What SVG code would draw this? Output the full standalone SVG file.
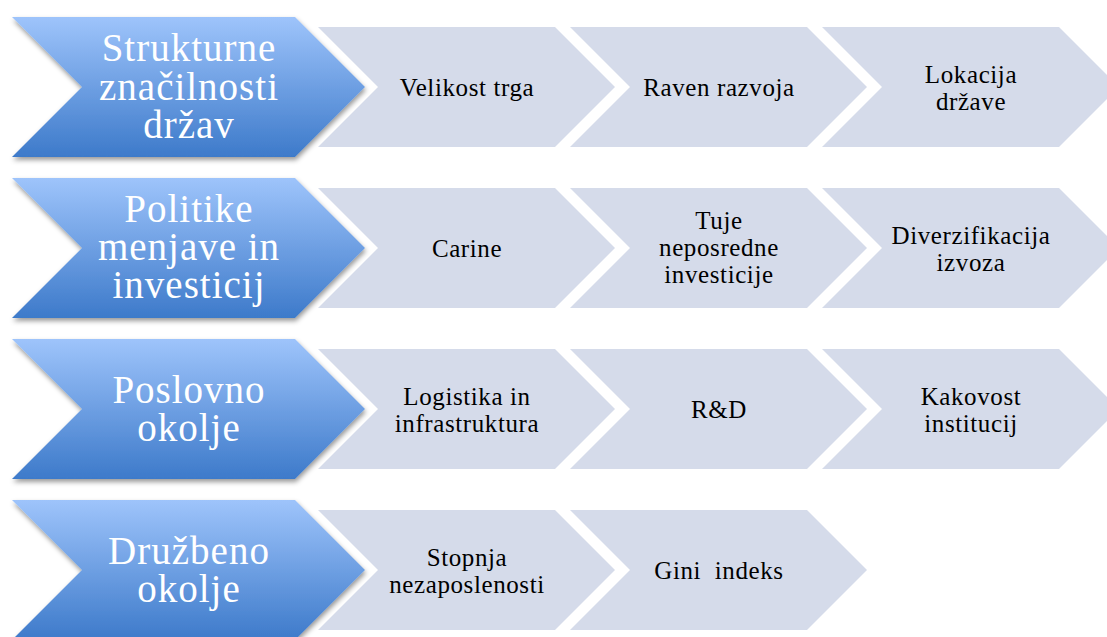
<svg xmlns="http://www.w3.org/2000/svg" width="1107" height="637" viewBox="0 0 1107 637">
<defs>
<linearGradient id="blueGrad" x1="0" y1="0" x2="0" y2="1">
<stop offset="0" stop-color="#9EC4FB"/>
<stop offset="1" stop-color="#3D7ACA"/>
</linearGradient>
<filter id="shadow" x="-10%" y="-10%" width="125%" height="130%">
<feDropShadow dx="1" dy="3" stdDeviation="2.5" flood-color="#000" flood-opacity="0.4"/>
</filter>
</defs>
<style>
.big{fill:url(#blueGrad);filter:url(#shadow);}
.light{fill:#D5DBEA;}
.bt{font-family:"Liberation Serif",serif;font-size:39px;fill:#FFFFFF;text-anchor:middle;letter-spacing:1px;}
.st{font-family:"Liberation Serif",serif;font-size:25px;fill:#000000;text-anchor:middle;letter-spacing:0.6px;white-space:pre;}
</style>
<rect width="1107" height="637" fill="#FFFFFF"/>
<g id="connectors"/>

<!-- Row 1 -->
<g id="row1-light1"><path class="light" d="M318,27 H555 L615,87 L555,147 H318 L378,87 Z"/><text class="st" x="467" y="96">Velikost trga</text></g>
<g id="row1-light2"><path class="light" d="M570,27 H807 L867,87 L807,147 H570 L630,87 Z"/><text class="st" x="719" y="96">Raven razvoja</text></g>
<g id="row1-light3"><path class="light" d="M822,27 H1059 L1119,87 L1059,147 H822 L882,87 Z"/><text class="st" x="971" y="82.5">Lokacija</text><text class="st" x="971" y="109.5">države</text></g>
<g id="row1-main"><path class="big" d="M12,17 H295 L365,87 L295,157 H12 L82,87 Z"/><text class="bt" x="189" y="61">Strukturne</text><text class="bt" x="189" y="100">značilnosti</text><text class="bt" x="189" y="138">držav</text></g>

<!-- Row 2 -->
<g id="row2-light1"><path class="light" d="M318,188 H555 L615,248 L555,308 H318 L378,248 Z"/><text class="st" x="467" y="257">Carine</text></g>
<g id="row2-light2"><path class="light" d="M570,188 H807 L867,248 L807,308 H570 L630,248 Z"/><text class="st" x="719" y="229">Tuje</text><text class="st" x="719" y="256">neposredne</text><text class="st" x="719" y="283">investicije</text></g>
<g id="row2-light3"><path class="light" d="M822,188 H1059 L1119,248 L1059,308 H822 L882,248 Z"/><text class="st" x="971" y="243.5">Diverzifikacija</text><text class="st" x="971" y="270.5">izvoza</text></g>
<g id="row2-main"><path class="big" d="M12,178 H295 L365,248 L295,318 H12 L82,248 Z"/><text class="bt" x="189" y="222">Politike</text><text class="bt" x="189" y="260">menjave in</text><text class="bt" x="189" y="298">investicij</text></g>

<!-- Row 3 -->
<g id="row3-light1"><path class="light" d="M318,349 H555 L615,409 L555,469 H318 L378,409 Z"/><text class="st" x="467" y="404.5">Logistika in</text><text class="st" x="467" y="431.5">infrastruktura</text></g>
<g id="row3-light2"><path class="light" d="M570,349 H807 L867,409 L807,469 H570 L630,409 Z"/><text class="st" x="719" y="418">R&amp;D</text></g>
<g id="row3-light3"><path class="light" d="M822,349 H1059 L1119,409 L1059,469 H822 L882,409 Z"/><text class="st" x="971" y="404.5">Kakovost</text><text class="st" x="971" y="431.5">institucij</text></g>
<g id="row3-main"><path class="big" d="M12,339 H295 L365,409 L295,479 H12 L82,409 Z"/><text class="bt" x="189" y="403">Poslovno</text><text class="bt" x="189" y="441">okolje</text></g>

<!-- Row 4 -->
<g id="row4-light1"><path class="light" d="M318,510 H555 L615,570 L555,630 H318 L378,570 Z"/><text class="st" x="467" y="565.5">Stopnja</text><text class="st" x="467" y="592.5">nezaposlenosti</text></g>
<g id="row4-light2"><path class="light" d="M570,510 H807 L867,570 L807,630 H570 L630,570 Z"/><text class="st" x="719" y="579">Gini  indeks</text></g>
<g id="row4-main"><path class="big" d="M12,500 H295 L365,570 L295,640 H12 L82,570 Z"/><text class="bt" x="189" y="564">Družbeno</text><text class="bt" x="189" y="602">okolje</text></g>
</svg>
